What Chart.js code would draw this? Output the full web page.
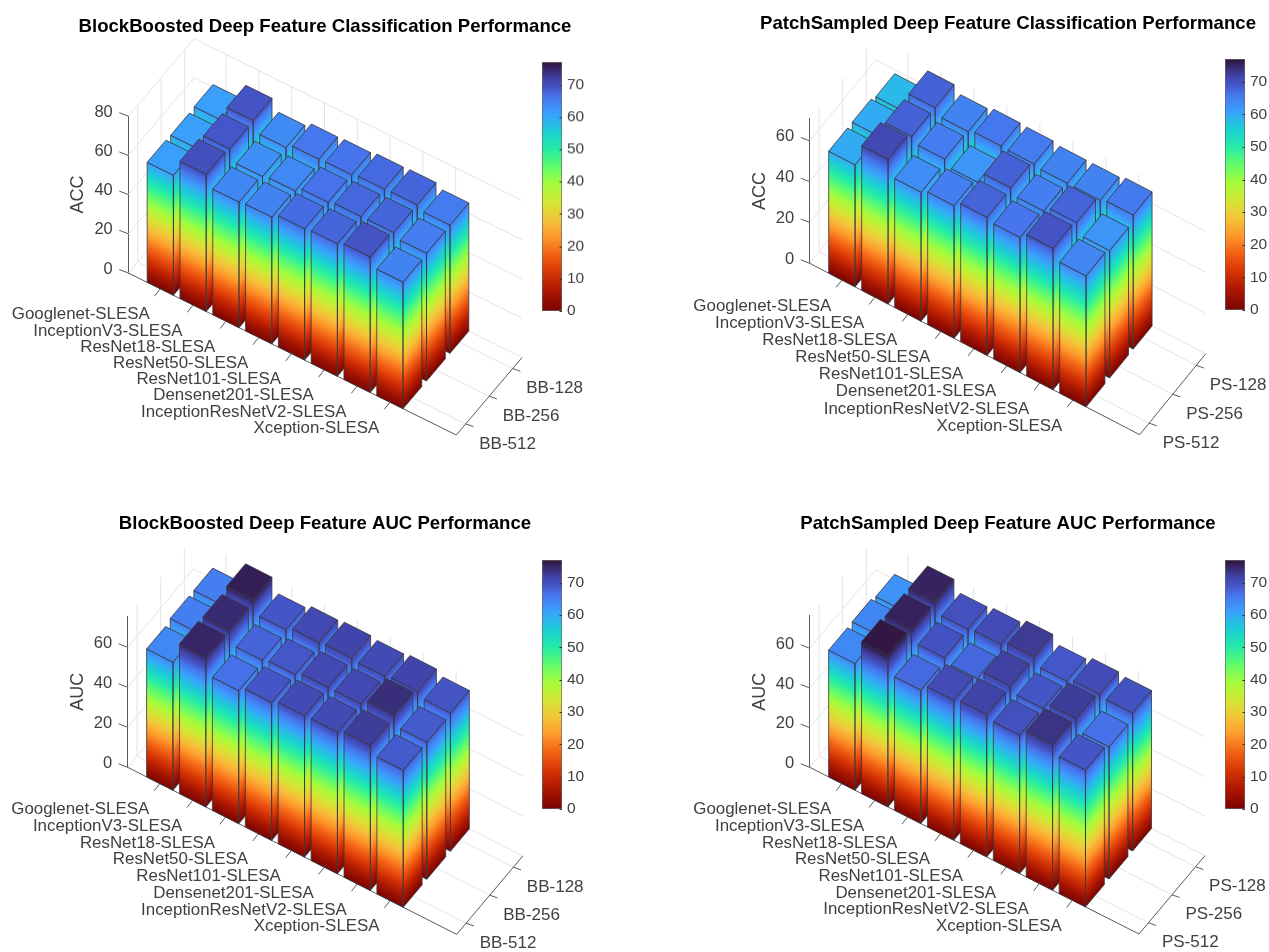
<!DOCTYPE html>
<html><head><meta charset="utf-8">
<script src="https://cdn.jsdelivr.net/npm/chart.js@4/dist/chart.umd.js"></script>
<style>
html,body{margin:0;padding:0;background:#fff;overflow:hidden}
#page{position:relative;width:1269px;height:952px;overflow:hidden;background:#fff}
canvas{position:absolute}
</style></head><body><div id="page"></div>
<script>
// ---------- data ----------
const categories = ['Googlenet-SLESA','InceptionV3-SLESA','ResNet18-SLESA','ResNet50-SLESA','ResNet101-SLESA','Densenet201-SLESA','InceptionResNetV2-SLESA','Xception-SLESA'];
const depthBB = ['BB-512','BB-256','BB-128'];
const depthPS = ['PS-512','PS-256','PS-128'];
const accBB512 = [61.2,70.0,64.1,64.7,67.0,67.6,69.2,64.6];
const accBB256 = [60.9,68.8,63.0,63.9,66.4,67.4,67.5,65.2];
const accBB128 = [61.3,69.2,63.7,66.0,66.3,67.2,67.5,65.4];
const accPS512 = [59.8,70.9,63.2,65.0,67.7,66.2,69.3,64.2];
const accPS256 = [59.8,68.0,65.3,62.3,68.0,65.0,67.7,62.4];
const accPS128 = [58.1,67.9,64.6,65.9,65.5,64.5,64.5,65.7];
const aucBB512 = [64.0,74.9,66.5,69.0,70.7,70.8,72.5,68.5];
const aucBB256 = [65.2,74.4,67.7,68.9,70.9,70.9,74.0,68.5];
const aucBB128 = [65.2,75.7,69.0,71.0,71.6,70.8,71.6,69.2];
const aucPS512 = [63.9,76.5,67.3,70.6,71.8,69.8,73.5,69.0];
const aucPS256 = [64.1,75.3,69.5,67.4,72.0,69.1,72.5,66.6];
const aucPS128 = [62.6,75.2,69.8,70.6,72.7,68.8,70.6,69.6];
const colorLimit = 77;
const turboStops = [[0,'#30123b'],[.07,'#4145ab'],[.105,'#4456c8'],[.14,'#4675ed'],[.21,'#39a2fc'],[.28,'#1bcfd4'],[.35,'#24eca6'],[.42,'#61fc6c'],[.49,'#a4fc3c'],[.56,'#d1e834'],[.63,'#f3c63a'],[.70,'#fe9b2d'],[.77,'#f36315'],[.84,'#d93806'],[.91,'#b11901'],[1,'#7a0402']];

// ---------- layout of the four panels (page pixels) ----------
const panels = [
 {title:'BlockBoosted Deep Feature Classification Performance',zLabel:'ACC',depth:depthBB,series:[accBB512,accBB256,accBB128],left:5,top:0,titleY:27,ox:128.3,oy:273,zMax:80,zPx:1.96,sx:32.8,sy:16.2,dx:23.5,dy:-27.7,barX:541.5,barTop:62,barBottom:310.5},
 {title:'PatchSampled Deep Feature Classification Performance',zLabel:'ACC',depth:depthPS,series:[accPS512,accPS256,accPS128],left:688,top:0,titleY:24,ox:809.7,oy:263.3,zMax:71,zPx:2.04,sx:33,sy:17.14,dx:23.57,dy:-28.9,barX:1224.5,barTop:59,barBottom:310},
 {title:'BlockBoosted Deep Feature AUC Performance',zLabel:'AUC',depth:depthBB,series:[aucBB512,aucBB256,aucBB128],left:5,top:476,titleY:524,ox:127.7,oy:767.3,zMax:75.6,zPx:2.0,sx:32.9,sy:16.71,dx:23.6,dy:-28,barX:541.5,barTop:560,barBottom:809},
 {title:'PatchSampled Deep Feature AUC Performance',zLabel:'AUC',depth:depthPS,series:[aucPS512,aucPS256,aucPS128],left:688,top:476,titleY:524,ox:809.7,oy:767.3,zMax:76.3,zPx:1.983,sx:32.93,sy:16.67,dx:23.57,dy:-28,barX:1224.5,barTop:560,barBottom:809}
];
const FONT = '"Liberation Sans", Arial, sans-serif';
const INK = '#404040', AXIS = '#5a5a5a', GRID = '#e4e4e4';
const U0 = 0.975, U_MAX = 10, V_MIN = 0.6, V_MAX = 3.4, HALF = 0.4;

function geo(chart){ return chart.config.options.plugins.axes3d; }
function project(chart,u,v,z){
  const g = geo(chart);
  return { x: chart.scales.u.getPixelForValue(u) + (v-V_MIN)*g.dx,
           y: chart.scales.y.getPixelForValue(z) + u*g.sy + (v-V_MIN)*g.dy };
}
function colorAt(value){
  const t = 1 - value/colorLimit;
  for(let k=1;k<turboStops.length;k++){
    if(t<=turboStops[k][0]){
      const [t0,c0]=turboStops[k-1],[t1,c1]=turboStops[k],f=(t-t0)/(t1-t0);
      const ch=(c,o)=>parseInt(c.substr(o,2),16);
      const mix=o=>Math.round(ch(c0,o)+(ch(c1,o)-ch(c0,o))*f);
      return `rgb(${mix(1)},${mix(3)},${mix(5)})`;
    }
  }
  return turboStops[turboStops.length-1][1];
}
function addTurbo(grad){ turboStops.forEach(([t,c])=>grad.addColorStop(1-t,c)); return grad; }

// ---------- 3-D bar controller: every face comes from the chart's scales ----------
class Bar3DController extends Chart.BarController {
  draw(){
    const chart=this.chart, ctx=chart.ctx, values=this.getDataset().data, Y=chart.scales.y;
    const v=this.index+1;
    const edge='rgba(55,55,60,0.8)';
    const face=(p,q,value)=>{
      const s=(q.y-p.y)/(q.x-p.x), full=Y.getPixelForValue(0)-Y.getPixelForValue(colorLimit), h=Y.getPixelForValue(0)-Y.getPixelForValue(value);
      ctx.save();
      ctx.transform(1,s,0,1,0,-s*p.x);
      ctx.fillStyle=addTurbo(ctx.createLinearGradient(0,p.y,0,p.y-full));
      ctx.fillRect(p.x,p.y-h,q.x-p.x,h);
      ctx.restore();
    };
    const outline=(pts,fill)=>{
      ctx.beginPath();pts.forEach((p,k)=>k?ctx.lineTo(p.x,p.y):ctx.moveTo(p.x,p.y));ctx.closePath();
      if(fill){ctx.fillStyle=fill;ctx.fill();}
      ctx.strokeStyle=edge;ctx.lineWidth=1;ctx.lineJoin='round';ctx.stroke();
    };
    values.forEach((value,i)=>{
      const u=i+U0;
      const at=(a,b,z)=>project(chart,u+a*HALF,v+b*HALF,z);
      const L0=at(-1,-1,0),F0=at(1,-1,0),R0=at(1,1,0);
      const L1=at(-1,-1,value),F1=at(1,-1,value),R1=at(1,1,value),B1=at(-1,1,value);
      face(L0,F0,value); face(F0,R0,value);
      outline([L0,F0,F1,L1]); outline([F0,R0,R1,F1]);
      outline([L1,F1,R1,B1],colorAt(value));
    });
  }
}
Bar3DController.id='bar3d';
Bar3DController.defaults=Chart.BarController.defaults;
Bar3DController.overrides=Chart.BarController.overrides;
Chart.register(Bar3DController);

// ---------- walls, floor, axes, tick labels ----------
const axes3d={
  id:'axes3d',
  beforeDatasetsDraw(chart){
    const g=geo(chart), ctx=chart.ctx, Y=chart.scales.y, zTop=Y.max;
    const uTicks=categories.map((_,i)=>i+U0), vTicks=g.depth.map((_,j)=>j+1);
    const zTicks=Y.ticks.map(t=>t.value);
    const line=(a,b,c,w)=>{ctx.beginPath();ctx.moveTo(a.x,a.y);ctx.lineTo(b.x,b.y);ctx.strokeStyle=c;ctx.lineWidth=w||1;ctx.stroke();};
    const P=(u,v,z)=>project(chart,u,v,z);
    ctx.save();
    zTicks.forEach(z=>{ line(P(0,V_MIN,z),P(0,V_MAX,z),GRID); line(P(0,V_MAX,z),P(U_MAX,V_MAX,z),GRID); });
    vTicks.forEach(v=>{ line(P(0,v,0),P(0,v,zTop),GRID); line(P(0,v,0),P(U_MAX,v,0),GRID); });
    uTicks.forEach(u=>{ line(P(u,V_MAX,0),P(u,V_MAX,zTop),GRID); line(P(u,V_MIN,0),P(u,V_MAX,0),GRID); });
    line(P(0,V_MIN,0),P(U_MAX,V_MIN,0),AXIS);
    line(P(U_MAX,V_MIN,0),P(U_MAX,V_MAX,0),AXIS);
    ctx.fillStyle=INK;
    // value axis
    ctx.font='16.5px '+FONT;ctx.textAlign='right';ctx.textBaseline='middle';
    zTicks.forEach(z=>{
      const a=P(0,V_MIN,z);
      line(a,{x:a.x-9,y:a.y-3.5},AXIS);
      ctx.fillText(String(z),a.x-15.5,a.y-4);
    });
    // category axis
    ctx.font='16.9px '+FONT;
    uTicks.forEach((u,i)=>{
      const a=P(u,V_MIN,0);
      line(a,{x:a.x-5.7,y:a.y+7.3},AXIS);
      ctx.fillText(categories[i],a.x-10.5,a.y+26);
    });
    // depth axis
    ctx.textAlign='left';
    ctx.font='17px '+FONT;
    vTicks.forEach((v,j)=>{
      const a=P(U_MAX,v,0);
      line(a,{x:a.x+7.7,y:a.y+2.7},AXIS);
      ctx.fillText(g.depth[j],a.x+13.5,a.y+20);
    });
    ctx.restore();
  }
};

const colorbarTicks={
  id:'colorbarTicks',
  afterDatasetsDraw(chart){
    const ctx=chart.ctx,a=chart.chartArea,Y=chart.scales.y;
    ctx.save();ctx.strokeStyle='#333';ctx.lineWidth=1;
    Y.ticks.forEach(t=>{const y=Math.round(Y.getPixelForValue(t.value))+.5;ctx.beginPath();ctx.moveTo(a.right-2.5,y);ctx.lineTo(a.right,y);ctx.stroke();});
    ctx.restore();
  }
};

const page=document.getElementById('page');
function addCanvas(l,t,w,h){const c=document.createElement('canvas');c.width=w;c.height=h;c.style.left=l+'px';c.style.top=t+'px';c.style.width=w+'px';c.style.height=h+'px';page.appendChild(c);return c;}

panels.forEach(p=>{
  const W=640,H=476,titleSize=18.6,lh=titleSize*1.2;
  const AX=p.ox-p.left, RIGHT=W-AX-U_MAX*p.sx;
  const areaTop=p.oy-p.zMax*p.zPx-p.top, areaBottom=p.oy-p.top;
  const tTop=p.titleY-p.top-lh/2;
  new Chart(addCanvas(p.left,p.top,W,H),{
    type:'bar3d',
    data:{labels:categories,datasets:p.series.map((values,j)=>({label:p.depth[j],data:values,clip:false}))},
    plugins:[axes3d],
    options:{
      responsive:false,animation:false,
      layout:{padding:{left:0,right:0,top:0,bottom:H-areaBottom}},
      plugins:{
        legend:{display:false},tooltip:{enabled:false},
        title:{display:true,text:p.title,color:'#000',font:{family:FONT,size:titleSize,weight:'bold',lineHeight:1.2},padding:{top:tTop,bottom:areaTop-tTop-lh}},
        axes3d:{dx:p.dx,dy:p.dy,sy:p.sy,depth:p.depth}
      },
      scales:{
        x:{type:'category',display:false,ticks:{display:false}},
        u:{type:'linear',axis:'x',position:'bottom',display:false,offset:false,min:0,max:U_MAX,ticks:{display:false}},
        y:{type:'linear',position:'left',min:0,max:p.zMax,afterFit:s=>{s.width=AX;},
           ticks:{display:false,stepSize:20,includeBounds:false},
           grid:{display:false,drawTicks:false},border:{display:true,color:AXIS,width:1},
           title:{display:true,text:p.zLabel,color:INK,font:{family:FONT,size:18},padding:{top:AX-50-10.8,bottom:0}}},
        gap:{type:'linear',axis:'y',position:'right',afterFit:s=>{s.width=RIGHT;},
           ticks:{display:false},grid:{display:false,drawTicks:false},border:{display:false}}
      }
    }
  });
  // colour bar
  const pad=12,bw=20,axisW=40;
  new Chart(addCanvas(p.barX-2,p.barTop-pad,bw+axisW+2,p.barBottom-p.barTop+2*pad),{
    type:'bar',
    data:{labels:['colour'],datasets:[{data:[[0,colorLimit]],barPercentage:1,categoryPercentage:1,borderWidth:1,borderColor:'#666',borderSkipped:false,
      backgroundColor(c){const a=c.chart.chartArea;if(!a)return '#888';return addTurbo(c.chart.ctx.createLinearGradient(0,c.chart.scales.y.getPixelForValue(0),0,c.chart.scales.y.getPixelForValue(colorLimit)));}}]},
    plugins:[colorbarTicks],
    options:{
      responsive:false,animation:false,
      layout:{padding:{left:2,right:0,top:pad,bottom:pad}},
      plugins:{legend:{display:false},tooltip:{enabled:false}},
      scales:{
        x:{display:false,ticks:{display:false}},
        y:{position:'right',min:0,max:colorLimit,afterFit:s=>{s.width=axisW;s.paddingTop=0;s.paddingBottom=0;},
           ticks:{stepSize:10,includeBounds:false,color:INK,font:{family:FONT,size:15.5},padding:5},
           grid:{display:false,drawTicks:false},border:{display:false}}
      }
    }
  });
});
</script></body></html>
